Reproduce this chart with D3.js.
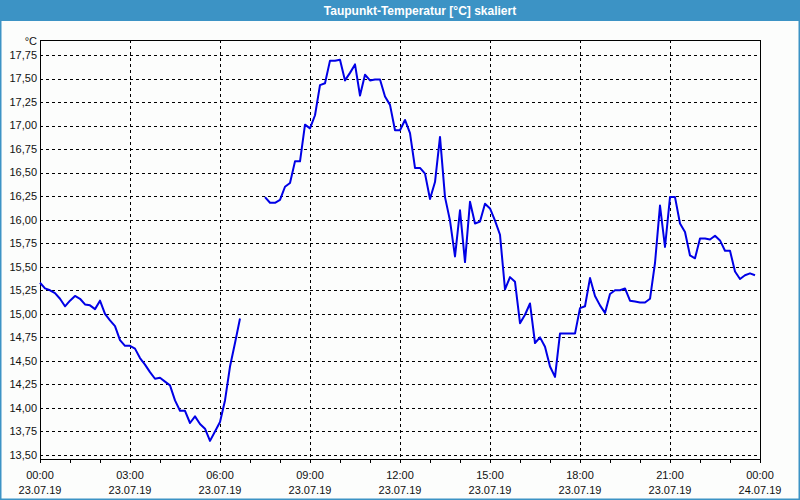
<!DOCTYPE html>
<html><head><meta charset="utf-8">
<script src="https://cdn.jsdelivr.net/npm/d3@7"></script>
<style>html,body{margin:0;padding:0;background:#fff;}svg{display:block;}</style>
</head><body>
<script>
const title = "Taupunkt-Temperatur [°C] skaliert";
const unitLabel = "°C";
const yTicks = [13.5,13.75,14,14.25,14.5,14.75,15,15.25,15.5,15.75,16,16.25,16.5,16.75,17,17.25,17.5,17.75];
const xTickHours = [0,3,6,9,12,15,18,21,24];
const xTickTimes = ["00:00","03:00","06:00","09:00","12:00","15:00","18:00","21:00","00:00"];
const xTickDates = ["23.07.19","23.07.19","23.07.19","23.07.19","23.07.19","23.07.19","23.07.19","23.07.19","24.07.19"];
const stepMinutes = 10;
const seg1Start = "00:00";
const seg1Values = [15.33,15.27,15.25,15.22,15.16,15.08,15.14,15.19,15.16,15.10,15.09,15.05,15.14,15.00,14.93,14.87,14.72,14.66,14.66,14.63,14.53,14.46,14.38,14.31,14.32,14.28,14.24,14.08,13.97,13.97,13.84,13.91,13.83,13.78,13.65,13.75,13.85,14.08,14.44,14.69,14.95];
const seg2Start = "07:30";
const seg2Values = [16.24,16.18,16.18,16.21,16.35,16.39,16.62,16.62,17.01,16.97,17.11,17.43,17.45,17.69,17.69,17.70,17.48,17.56,17.65,17.32,17.54,17.48,17.49,17.49,17.31,17.22,16.95,16.95,17.06,16.92,16.55,16.55,16.49,16.22,16.40,16.88,16.24,15.99,15.61,16.10,15.55,16.19,15.96,15.98,16.17,16.12,15.99,15.84,15.26,15.39,15.34,14.90,14.99,15.11,14.69,14.75,14.65,14.44,14.33,14.79,14.79,14.79,14.79,15.06,15.08,15.38,15.19,15.09,15.01,15.21,15.25,15.25,15.27,15.14,15.13,15.12,15.12,15.16,15.54,16.15,15.71,16.24,16.24,15.96,15.87,15.62,15.59,15.80,15.80,15.79,15.83,15.78,15.67,15.67,15.45,15.37,15.41,15.43,15.41];

const W = 800, H = 500;
const svg = d3.select("body").append("svg").attr("width", W).attr("height", H);
const font = "'Liberation Sans', Arial, sans-serif";

// window background and frame
svg.append("rect").attr("x",0).attr("y",0).attr("width",W).attr("height",H).attr("fill","#fcfdfc");
svg.append("rect").attr("x",0.75).attr("y",0).attr("width",W-1.5).attr("height",H-0.75)
  .attr("fill","none").attr("stroke","#3c93c5").attr("stroke-width",1.5);
svg.append("rect").attr("x",0).attr("y",0).attr("width",W).attr("height",21).attr("fill","#3c93c5");
svg.append("text").attr("x",420).attr("y",15).attr("text-anchor","middle")
  .attr("font-family",font).attr("font-size",12).attr("font-weight","bold").attr("fill","#fff").text(title);

const L = 40, R = 760, T = 40, B = 459;
const x = d3.scaleLinear().domain([0,24]).range([L,R]);
const y = d3.scaleLinear().domain([13.5,17.75]).range([455,55]);

const g = svg.append("g");
// horizontal grid
g.selectAll(".hg").data(yTicks).join("line")
  .attr("x1",L).attr("x2",R).attr("y1",d=>Math.round(y(d))+0.5).attr("y2",d=>Math.round(y(d))+0.5)
  .attr("stroke","#000").attr("stroke-width",1).attr("stroke-dasharray","3,3");
// vertical grid
g.selectAll(".vg").data(xTickHours.filter(h=>h>0&&h<24)).join("line")
  .attr("x1",d=>Math.round(x(d))+0.5).attr("x2",d=>Math.round(x(d))+0.5).attr("y1",T).attr("y2",B)
  .attr("stroke","#000").attr("stroke-width",1).attr("stroke-dasharray","3,3");

// frame
g.append("rect").attr("x",L+0.5).attr("y",T+0.5).attr("width",R-L).attr("height",B-T)
  .attr("fill","none").attr("stroke","#000").attr("stroke-width",1);

// hourly ticks
g.selectAll(".tk").data(d3.range(0,25)).join("line")
  .attr("x1",d=>Math.round(x(d))+0.5).attr("x2",d=>Math.round(x(d))+0.5).attr("y1",B).attr("y2",B+4)
  .attr("stroke","#000").attr("stroke-width",1);

// y labels
const fmt = v => v.toFixed(2).replace(".",",");
g.selectAll(".yl").data(yTicks).join("text")
  .attr("x",37).attr("y",d=>y(d)).attr("dy","0.35em").attr("text-anchor","end")
  .attr("font-family",font).attr("font-size",11).attr("fill","#111").text(fmt);
g.append("text").attr("x",37).attr("y",45).attr("text-anchor","end")
  .attr("font-family",font).attr("font-size",11).attr("fill","#111").text(unitLabel);

// x labels
xTickHours.forEach((h,i)=>{
  g.append("text").attr("x",x(h)).attr("y",479).attr("text-anchor","middle")
    .attr("font-family",font).attr("font-size",11).attr("fill","#111").text(xTickTimes[i]);
  g.append("text").attr("x",x(h)).attr("y",494).attr("text-anchor","middle")
    .attr("font-family",font).attr("font-size",11).attr("fill","#111").text(xTickDates[i]);
});

// series
const toHours = s => { const [hh,mm] = s.split(":").map(Number); return hh + mm/60; };
function seg(start, vals){ const h0 = toHours(start); return vals.map((v,i)=>({t:h0 + i*stepMinutes/60, v})); }
const segments = [seg(seg1Start, seg1Values), seg(seg2Start, seg2Values)];
const line = d3.line().x(d=>x(d.t)).y(d=>y(d.v));
svg.selectAll(".series").data(segments).join("path")
  .attr("d",line).attr("fill","none").attr("stroke","#0000e6").attr("stroke-width",2)
  .attr("stroke-linejoin","round");
</script>
</body></html>
